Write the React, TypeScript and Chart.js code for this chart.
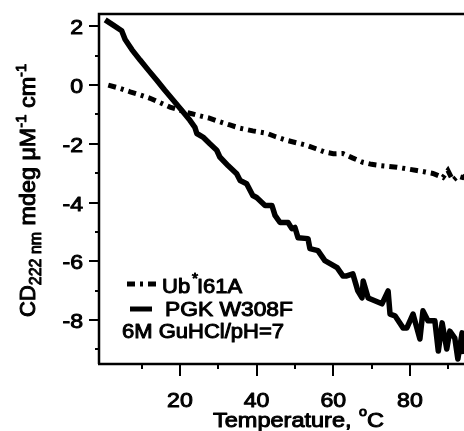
import React, { useEffect, useRef } from "react";
import { Chart, registerables } from "chart.js";

Chart.register(...registerables);

// ---- Data ----
const pgkTemp = [0.5, 2.5, 4.8, 5.7, 7.5, 9.6, 11.8, 13.9, 16, 18.2, 20.4, 22.6, 23.9, 24.4, 26.0, 27.8, 29.6, 30.4, 32.6, 34.8, 35.7, 37.4, 39.0, 40.0, 42.2, 44.0, 44.8, 46.1, 48.2, 49.2, 50.0, 50.8, 53.4, 53.9, 56.0, 57.8, 61.0, 62.5, 63.5, 65.1, 66.4, 67.5, 67.8, 69.1, 72.7, 74.3, 74.8, 76.1, 78.2, 79.2, 80.8, 82.6, 83.4, 84.7, 86.5, 87.4, 88.4, 89.6, 90.4, 91.7, 92.5, 93.6, 94.1, 95.0];
const pgkCD = [2.22, 2.05, 1.85, 1.55, 1.2, 0.85, 0.5, 0.17, -0.17, -0.51, -0.85, -1.2, -1.44, -1.65, -1.77, -2.0, -2.22, -2.45, -2.75, -3.02, -3.25, -3.36, -3.76, -3.83, -4.10, -4.10, -4.44, -4.68, -4.68, -4.89, -4.85, -5.20, -5.23, -5.57, -5.64, -5.98, -6.22, -6.50, -6.50, -6.43, -7.01, -7.25, -6.67, -7.25, -7.45, -7.01, -7.80, -7.86, -8.27, -8.27, -7.80, -8.65, -7.69, -8.03, -8.03, -9.06, -8.10, -8.99, -8.38, -8.62, -9.33, -8.44, -9.16, -8.8];

const ubTemp = [1.3, 4, 7, 9.5, 12.2, 14.8, 17.4, 20, 22.6, 25.2, 27.5, 30.4, 33, 35.7, 39, 42.6, 45, 47.8, 50.5, 53, 55.5, 57.8, 60, 62.5, 65, 67.7, 70, 72.2, 74.5, 76.6, 79, 81.8, 84, 86, 88.6, 89.9, 91.2, 92.5, 93.8, 95];
const ubCD = [0, -0.1, -0.23, -0.33, -0.45, -0.6, -0.75, -0.86, -0.96, -1.05, -1.12, -1.25, -1.36, -1.47, -1.56, -1.64, -1.76, -1.88, -1.97, -2.05, -2.17, -2.28, -2.34, -2.33, -2.48, -2.63, -2.70, -2.74, -2.77, -2.80, -2.85, -2.91, -2.96, -3.01, -3.15, -2.91, -3.25, -3.1, -3.15, -3.05];

const xTickLabels = ["20", "40", "60", "80"];
const yTickLabels = ["2", "0", "-2", "-4", "-6", "-8"];
const seriesNames = ["Ub", "I61A", "PGK W308F"];
const conditionText = "6M GuHCl/pH=7";
const xTitle = ["Temperature, ", "o", "C"];
const yTitle = ["CD", "222 nm", " mdeg \u03bcM", "-1", " cm", "-1"];

const FONT = '"Liberation Sans", Arial, sans-serif';
const UB_DASH = [8, 5, 3, 5];

function txt(ctx: CanvasRenderingContext2D, s: string, x: number, y: number, size: number, align: CanvasTextAlign = "left", sx = 1.1) {
  ctx.save();
  ctx.font = `${size}px ${FONT}`;
  ctx.textAlign = align;
  ctx.textBaseline = "alphabetic";
  ctx.translate(x, y);
  ctx.scale(sx, 1);
  ctx.fillStyle = "#000";
  ctx.strokeStyle = "#000";
  ctx.lineWidth = 1.0;
  ctx.lineJoin = "round";
  ctx.fillText(s, 0, 0);
  ctx.strokeText(s, 0, 0);
  ctx.restore();
  ctx.font = `${size}px ${FONT}`;
  return ctx.measureText(s).width * sx;
}

const decor = {
  id: "decor",
  afterDraw(chart: any) {
    const ctx: CanvasRenderingContext2D = chart.ctx;
    const a = chart.chartArea;
    const xs = chart.scales.x;
    const ys = chart.scales.y;
    ctx.save();
    ctx.strokeStyle = "#000";
    ctx.lineCap = "butt";
    // frame
    ctx.lineWidth = 2.5;
    ctx.beginPath();
    ctx.moveTo(a.left, a.bottom);
    ctx.lineTo(a.left, a.top);
    ctx.lineTo(chart.width + 2, a.top);
    ctx.moveTo(a.left - 1, a.bottom);
    ctx.lineTo(chart.width + 2, a.bottom);
    ctx.stroke();
    // ticks
    ctx.lineWidth = 2;
    ctx.beginPath();
    for (const t of ys.ticks) {
      const py = Math.round(ys.getPixelForValue(t.value));
      const len = Math.abs(t.value % 2) < 1e-6 ? 10 : 4;
      ctx.moveTo(a.left - len, py);
      ctx.lineTo(a.left, py);
    }
    for (const t of xs.ticks) {
      if (Math.abs(t.value) < 1e-6) continue;
      const px = Math.round(xs.getPixelForValue(t.value));
      const len = Math.abs(t.value % 20) < 1e-6 ? 12 : 5;
      ctx.moveTo(px, a.bottom);
      ctx.lineTo(px, a.bottom + len);
    }
    ctx.stroke();
    // tick labels
    for (const l of xTickLabels) {
      txt(ctx, l, xs.getPixelForValue(Number(l)), 407, 21, "center");
    }
    for (const l of yTickLabels) {
      txt(ctx, l, 83, ys.getPixelForValue(Number(l)) + 8, 21, "right");
    }
    // x title
    let x = 213;
    x += txt(ctx, xTitle[0], x, 427, 21, "left", 1.12);
    x += txt(ctx, xTitle[1], x + 1, 416, 13) + 1;
    txt(ctx, xTitle[2], x, 427, 21, "left", 1.12);
    // y title (rotated)
    ctx.save();
    ctx.translate(35, 317);
    ctx.rotate(-Math.PI / 2);
    let ty = 0;
    ty += txt(ctx, yTitle[0], ty, 0, 22, "left", 1.0);
    ty += txt(ctx, yTitle[1], ty, 6, 16, "left", 1.0);
    ty += txt(ctx, yTitle[2], ty, 0, 22, "left", 1.06);
    ty += txt(ctx, yTitle[3], ty, -9, 14, "left", 1.06);
    ty += txt(ctx, yTitle[4], ty, 0, 22, "left", 1.06);
    txt(ctx, yTitle[5], ty, -9, 14, "left", 1.06);
    ctx.restore();
    // legend
    ctx.lineWidth = 5;
    ctx.setLineDash(UB_DASH);
    ctx.beginPath();
    ctx.moveTo(127, 284);
    ctx.lineTo(157, 284);
    ctx.stroke();
    ctx.setLineDash([]);
    ctx.beginPath();
    ctx.moveTo(130, 309);
    ctx.lineTo(152, 309);
    ctx.stroke();
    txt(ctx, seriesNames[0], 162, 293, 20);
    txt(ctx, "*", 192, 283, 14);
    txt(ctx, seriesNames[1], 197, 293, 20);
    txt(ctx, seriesNames[2], 165, 316, 20, "left", 1.14);
    txt(ctx, conditionText, 122, 338, 20, "left", 1.1);
    ctx.restore();
  },
};

export default function App() {
  const ref = useRef<HTMLCanvasElement | null>(null);
  useEffect(() => {
    if (!ref.current) return;
    const chart = new Chart(ref.current, {
      type: "line",
      data: {
        datasets: [
          {
            label: "Ub I61A",
            data: ubTemp.map((t, i) => ({ x: t, y: ubCD[i] })),
            borderColor: "#000",
            borderWidth: 5,
            borderDash: UB_DASH,
            borderCapStyle: "butt",
            pointRadius: 0,
            tension: 0,
            fill: false,
          },
          {
            label: "PGK W308F",
            data: pgkTemp.map((t, i) => ({ x: t, y: pgkCD[i] })),
            borderColor: "#000",
            borderWidth: 5.5,
            borderJoinStyle: "round",
            pointRadius: 0,
            tension: 0,
            fill: false,
          },
        ],
      },
      options: {
        animation: false,
        responsive: false,
        devicePixelRatio: 1,
        layout: { padding: { top: 14, right: 0, bottom: 0, left: 0 } },
        plugins: { legend: { display: false }, tooltip: { enabled: false } },
        scales: {
          x: {
            type: "linear",
            min: -1.12,
            max: 94.1,
            ticks: { stepSize: 10, includeBounds: false, display: false },
            grid: { display: false },
            border: { display: false },
            afterFit: (s: any) => { s.height = 67; },
          },
          y: {
            type: "linear",
            min: -9.5,
            max: 2.42,
            ticks: { stepSize: 1, includeBounds: false, display: false },
            grid: { display: false },
            border: { display: false },
            afterFit: (s: any) => { s.width = 99; },
          },
        },
      } as any,
      plugins: [decor],
    });
    return () => chart.destroy();
  }, []);
  return (
    <div style={{ position: "absolute", left: 0, top: 0, width: 464, height: 431, background: "#fff" }}>
      <canvas ref={ref} width={464} height={431} style={{ display: "block" }} />
    </div>
  );
}
